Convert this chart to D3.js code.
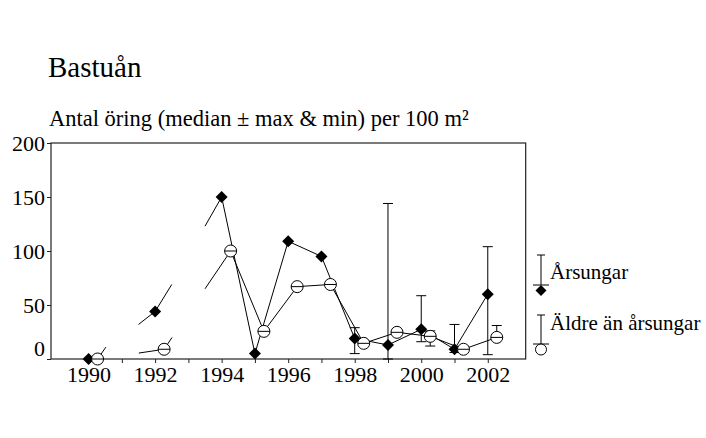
<!DOCTYPE html>
<html><head><meta charset="utf-8">
<script src="https://cdn.jsdelivr.net/npm/d3@7"></script>
<style>
html,body{margin:0;padding:0;background:#fff;}
svg text{font-family:"Liberation Serif","Times New Roman",serif;fill:#000;}
</style></head>
<body><svg id="c" width="706" height="438"></svg>
<script>
// ---- data ----
const years = [1990, 1992, 1994, 1995, 1996, 1997, 1998, 1999, 2000, 2001, 2002];
const arsMedian = [0, 44, 150, 5, 109, 95, 19, 13, 27.5, 9, 60];
const arsMax    = [0, 44, 150, 5, 109, 95, 29, 144, 58.6, 32, 104];
const arsMin    = [0, 44, 150, 5, 109, 95, 5, 0, 16, 6, 4];
const aldreMedian = [0, 9, 100, 25.6, 67, 69, 14.5, 24.7, 21, 9, 20];
const aldreMax    = [0, 9, 100, 25.6, 67, 69, 14.5, 24.7, 26, 9, 31];
const aldreMin    = [0, 9, 100, 25.6, 67, 69, 14.5, 24.7, 12, 9, 18];
// line segments (connections toward missing years shown as stubs)
const arsSegments = [
  [[1991.5, 32], [1992, 44], [1992.5, 69]],
  [[1993.5, 123], [1994, 150], [1995, 5], [1996, 109], [1997, 95], [1998, 19], [1999, 13], [2000, 27.5], [2001, 9], [2002, 60]]
];
const aldreSegments = [
  [[1990.27, 0], [1990.52, 11]],
  [[1991.51, 5.5], [1992.27, 9], [1992.51, 20]],
  [[1993.5, 65], [1994.27, 100], [1995.27, 25.6], [1996.27, 67], [1997.27, 69], [1998.27, 14.5], [1999.27, 24.7], [2000.27, 21], [2001.27, 9], [2002.27, 20]]
];
const aldreOffset = 0.27;
const xTickLabels = [1990, 1992, 1994, 1996, 1998, 2000, 2002];
const xTickAll = d3.range(1990, 2003);
const yTicks = [0, 50, 100, 150, 200];
const title = "Bastuån";
const subtitle = "Antal öring (median ± max & min) per 100 m²";
const legendLabels = ["Årsungar", "Äldre än årsungar"];

// ---- layout ----
const L = 51, R = 525.7, T = 143, B = 359;
const svg = d3.select("#c");
const x = d3.scaleLinear().domain([1988.87, 2003.14]).range([L, R]);
const y = d3.scaleLinear().domain([0, 200]).range([B, T]);

svg.append("text").attr("x", 48).attr("y", 77).attr("font-size", 29).text(title);
svg.append("text").attr("x", 49).attr("y", 126).attr("font-size", 22.5).text(subtitle);

// frame
svg.append("rect").attr("x", L).attr("y", T).attr("width", R - L).attr("height", B - T)
  .attr("fill", "none").attr("stroke", "#222").attr("stroke-width", 1.2);

// y axis
const yAxis = svg.append("g").attr("transform", `translate(${L},0)`)
  .call(d3.axisLeft(y).tickValues(yTicks).tickSize(4).tickFormat(d3.format("d")));
yAxis.select(".domain").remove();
yAxis.selectAll("line").attr("stroke", "#222");
yAxis.selectAll("text").attr("font-size", 22).attr("x", -6)
  .attr("font-family", '"Liberation Serif","Times New Roman",serif')
  .attr("dy", d => d === 0 ? "-0.15em" : "0.35em");

// x axis
const xAxis = svg.append("g").attr("transform", `translate(0,${B})`)
  .call(d3.axisBottom(x).tickValues(xTickAll).tickSize(4).tickFormat(d => xTickLabels.includes(d) ? d : ""));
xAxis.select(".domain").remove();
xAxis.selectAll("line").attr("stroke", "#222");
xAxis.selectAll("text").attr("font-size", 22).attr("y", 7)
  .attr("font-family", '"Liberation Serif","Times New Roman",serif');

const line = d3.line().x(d => x(d[0])).y(d => y(d[1]));
const g = svg.append("g");
[...arsSegments, ...aldreSegments].forEach(s => {
  g.append("path").attr("d", line(s)).attr("fill", "none").attr("stroke", "#000").attr("stroke-width", 1);
});

const capW = 5;
function errorBars(xs, mins, maxs) {
  xs.forEach((xv, i) => {
    if (maxs[i] === mins[i]) return;
    const px = x(xv);
    g.append("line").attr("x1", px).attr("x2", px).attr("y1", y(mins[i])).attr("y2", y(maxs[i])).attr("stroke", "#000");
    [mins[i], maxs[i]].forEach(v => g.append("line").attr("x1", px - capW).attr("x2", px + capW)
      .attr("y1", y(v)).attr("y2", y(v)).attr("stroke", "#000"));
  });
}
errorBars(years, arsMin, arsMax);
errorBars(years.map(d => d + aldreOffset), aldreMin, aldreMax);

const diamond = (cx, cy, s) => `M${cx},${cy - s}L${cx + s},${cy}L${cx},${cy + s}L${cx - s},${cy}Z`;
years.forEach((yr, i) => {
  g.append("path").attr("d", diamond(x(yr), y(arsMedian[i]), 6)).attr("fill", "#000");
});
years.forEach((yr, i) => {
  const cx = x(yr + aldreOffset), cy = y(aldreMedian[i]);
  g.append("circle").attr("cx", cx).attr("cy", cy).attr("r", 6).attr("fill", "#fff").attr("stroke", "#000");
  g.append("line").attr("x1", cx - 6).attr("x2", cx + 6).attr("y1", cy).attr("y2", cy).attr("stroke", "#000");
});

// legend
const lg = svg.append("g");
const lx = 541;
function legendItem(topY, lineY, marker, label, textY) {
  lg.append("line").attr("x1", lx - 4).attr("x2", lx + 4).attr("y1", topY).attr("y2", topY).attr("stroke", "#000");
  lg.append("line").attr("x1", lx).attr("x2", lx).attr("y1", topY).attr("y2", lineY).attr("stroke", "#000");
  lg.append("line").attr("x1", lx - 8).attr("x2", lx + 8).attr("y1", lineY).attr("y2", lineY).attr("stroke", "#000");
  if (marker === "d") lg.append("path").attr("d", diamond(lx, lineY + 5.5, 5.5)).attr("fill", "#000");
  else lg.append("circle").attr("cx", lx).attr("cy", lineY + 5.5).attr("r", 5.5).attr("fill", "#fff").attr("stroke", "#000");
  lg.append("text").attr("x", 550).attr("y", textY).attr("font-size", 21).text(label);
}
legendItem(255, 285, "d", legendLabels[0], 279);
legendItem(315, 344, "c", legendLabels[1], 330);
</script></body></html>
